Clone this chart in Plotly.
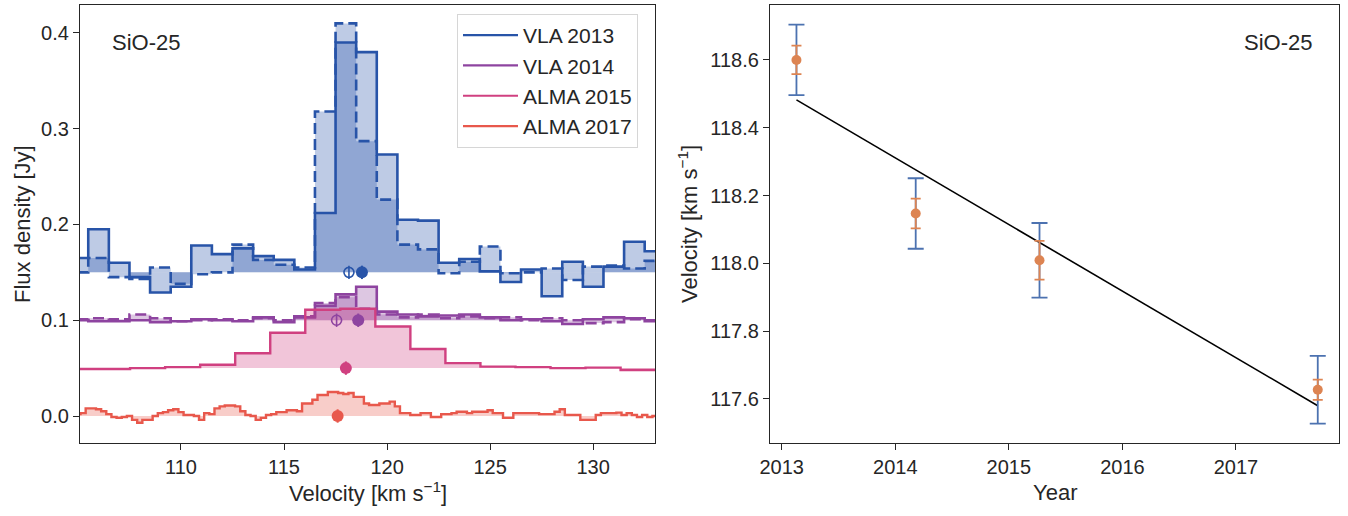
import plotly.graph_objects as go

W, H = 1348, 516

# ---------------- Left panel data (spectra, already offset) ----------------
vla_vel = list(range(105, 134))  # channel centres, km/s (1 km/s channels)

vla2013_solid = [0.165, 0.195, 0.160, 0.145, 0.129, 0.135, 0.178, 0.169, 0.175, 0.167,
                 0.163, 0.153, 0.212, 0.390, 0.380, 0.273, 0.205, 0.204, 0.160, 0.164,
                 0.151, 0.140, 0.153, 0.125, 0.161, 0.135, 0.156, 0.182, 0.172]
vla2013_dash = [0.150, 0.165, 0.145, 0.143, 0.155, 0.138, 0.148, 0.150, 0.179, 0.163,
                0.158, 0.155, 0.318, 0.410, 0.287, 0.226, 0.179, 0.174, 0.149, 0.161,
                0.177, 0.149, 0.150, 0.154, 0.142, 0.156, 0.157, 0.154, 0.162]

vla2014_solid = [0.100, 0.099, 0.099, 0.100, 0.098, 0.099, 0.101, 0.100, 0.099, 0.103,
                 0.098, 0.103, 0.115, 0.127, 0.135, 0.109, 0.106, 0.104, 0.105, 0.106,
                 0.103, 0.100, 0.101, 0.099, 0.096, 0.101, 0.103, 0.102, 0.099]
vla2014_dash = [0.101, 0.102, 0.101, 0.106, 0.102, 0.099, 0.100, 0.101, 0.100, 0.102,
                0.100, 0.104, 0.118, 0.124, 0.112, 0.106, 0.103, 0.106, 0.102, 0.104,
                0.102, 0.103, 0.100, 0.102, 0.100, 0.097, 0.098, 0.101, 0.100]

alma2015_vel = [104.98, 106.68, 108.38, 110.08, 111.78, 113.48, 115.18, 116.88, 118.58,
                120.28, 121.98, 123.68, 125.38, 127.08, 128.78, 130.48, 132.18, 133.88]
alma2015 = [0.049, 0.049, 0.050, 0.051, 0.0535, 0.0655, 0.087, 0.111, 0.112,
            0.0935, 0.070, 0.0552, 0.0516, 0.051, 0.050, 0.0505, 0.048, 0.048]

alma2017_v0 = 105.0   # first channel centre, km/s
alma2017_dv = 0.25    # channel width, km/s
alma2017 = [0.002, 0.003, 0.008, 0.008, 0.007, 0.005, 0.002, -0.001, -0.002, -0.001,
            0.000, -0.004, -0.007, -0.004, -0.004, 0.000, 0.003, 0.004, 0.006, 0.007,
            0.004, 0.001, 0.001, 0.000, -0.004, 0.003, 0.002, 0.008, 0.010, 0.011,
            0.011, 0.010, 0.005, 0.001, 0.000, -0.004, -0.002, 0.001, 0.002, 0.004,
            0.004, 0.006, 0.006, 0.005, 0.013, 0.013, 0.017, 0.022, 0.022, 0.025,
            0.025, 0.024, 0.023, 0.024, 0.020, 0.020, 0.013, 0.0115, 0.0115, 0.013,
            0.013, 0.015, 0.010, 0.003, 0.003, 0.001, 0.001, 0.003, 0.003, -0.001,
            -0.001, 0.002, 0.002, 0.003, 0.0045, 0.0045, 0.003, 0.0045, 0.0045, 0.0045,
            0.006, 0.003, 0.003, -0.002, -0.002, 0.003, 0.003, 0.003, 0.003, 0.003,
            0.002, 0.002, 0.002, 0.0045, 0.007, 0.001, 0.001, 0.001, -0.004, -0.004,
            -0.004, 0.001, 0.003, 0.003, 0.003, 0.0035, 0.001, 0.003, 0.001, -0.001,
            0.001, -0.001, 0.000]
alma2017_vel = [alma2017_v0 + alma2017_dv * i for i in range(len(alma2017))]

baselines = {"VLA 2013": 0.15, "VLA 2014": 0.10, "ALMA 2015": 0.05, "ALMA 2017": 0.0}

# centroid markers
open_vel = [118.15, 117.55]
open_y = [0.15, 0.10]
filled_vel = [118.78, 118.60, 118.00, 117.60]
filled_y = [0.15, 0.10, 0.05, 0.00]
marker_err = 0.007

# ---------------- Right panel data ----------------
years = [2013.13, 2014.18, 2015.27, 2017.72]
velocity = [118.600, 118.147, 118.009, 117.627]
err_total = [0.104, 0.104, 0.110, 0.100]
err_stat = [0.042, 0.044, 0.057, 0.030]
fit_years = [2013.13, 2017.72]
fit_vel = [118.482, 117.580]

# ---------------- Styles ----------------
C = {"VLA 2013": (40, 84, 168), "VLA 2014": (142, 68, 160),
     "ALMA 2015": (208, 64, 128), "ALMA 2017": (232, 88, 76)}
FONT = "Liberation Sans, Arial, Helvetica, sans-serif"
INK = "#262626"
LW = 2.6
DASH = "11px,5px"


def rgb(c, a=None):
    return f"rgb{c}" if a is None else f"rgba({c[0]},{c[1]},{c[2]},{a})"


fig = go.Figure()


def add_spec(x, y, name, dash=None, shape="hvh"):
    base = baselines[name]
    fig.add_trace(go.Scatter(x=x, y=[base] * len(x), mode="lines", line=dict(width=0),
                             showlegend=False, hoverinfo="skip", xaxis="x", yaxis="y"))
    fig.add_trace(go.Scatter(x=x, y=y, mode="lines", line_shape=shape,
                             line=dict(color=rgb(C[name]), width=LW if name.startswith("VLA") else 2.4,
                                       dash=dash if dash else "solid"),
                             fill="tonexty", fillcolor=rgb(C[name], 0.3),
                             showlegend=False, hoverinfo="skip", xaxis="x", yaxis="y"))


add_spec(vla_vel, vla2013_solid, "VLA 2013")
add_spec(vla_vel, vla2013_dash, "VLA 2013", dash=DASH)
add_spec(vla_vel, vla2014_solid, "VLA 2014")
add_spec(vla_vel, vla2014_dash, "VLA 2014", dash=DASH)
add_spec(alma2015_vel, alma2015, "ALMA 2015")
add_spec(alma2017_vel, alma2017, "ALMA 2017")

names = list(baselines.keys())
# open centroid markers (VLA 2013, VLA 2014)
for i in range(2):
    fig.add_trace(go.Scatter(x=[open_vel[i]], y=[open_y[i]], mode="markers",
                             marker=dict(symbol="circle-open", size=10, color=rgb(C[names[i]]),
                                         line=dict(width=1.6)),
                             error_y=dict(type="constant", value=marker_err, width=0, thickness=1.6,
                                          color=rgb(C[names[i]])),
                             showlegend=False, xaxis="x", yaxis="y"))
for i, n in enumerate(names):
    fig.add_trace(go.Scatter(x=[filled_vel[i]], y=[filled_y[i]], mode="markers",
                             marker=dict(symbol="circle", size=12, color=rgb(C[n])),
                             error_y=dict(type="constant", value=marker_err, width=0, thickness=2,
                                          color=rgb(C[n])),
                             showlegend=False, xaxis="x", yaxis="y"))

# legend entries
for i, n in enumerate(names):
    fig.add_trace(go.Scatter(x=[None], y=[None], mode="lines", name=n,
                             line=dict(color=rgb(C[n]), width=2.2),
                             xaxis="x", yaxis="y"))

# ---------------- Right panel ----------------
fig.add_trace(go.Scatter(x=fit_years, y=fit_vel, mode="lines", line=dict(color="black", width=1.6),
                         showlegend=False, xaxis="x2", yaxis="y2"))
fig.add_trace(go.Scatter(x=years, y=velocity, mode="markers", marker=dict(size=0.1, color="#4c72b0"),
                         error_y=dict(type="data", array=err_total, width=8, thickness=1.8, color="#4c72b0"),
                         showlegend=False, xaxis="x2", yaxis="y2"))
fig.add_trace(go.Scatter(x=years, y=velocity, mode="markers", marker=dict(size=10, color="#dd8452"),
                         error_y=dict(type="data", array=err_stat, width=5, thickness=1.8, color="#dd8452"),
                         showlegend=False, xaxis="x2", yaxis="y2"))

axis_common = dict(showline=True, mirror=True, linecolor=INK, linewidth=1.3, ticks="outside",
                   ticklen=6, tickwidth=1.3, tickcolor=INK, showgrid=False, zeroline=False,
                   tickfont=dict(family=FONT, size=20, color=INK), automargin=False)

ybot, ytop = (H - 443) / H, (H - 5) / H
fig.update_layout(
    width=W, height=H, margin=dict(l=0, r=0, t=0, b=0),
    paper_bgcolor="white", plot_bgcolor="white",
    font=dict(family=FONT, color=INK),
    xaxis=dict(domain=[80 / W, 655 / W], range=[105.1, 133.0], tickvals=[110, 115, 120, 125, 130],
               anchor="y", **axis_common),
    yaxis=dict(domain=[ybot, ytop], range=[-0.0282, 0.4292], tickvals=[0, 0.1, 0.2, 0.3, 0.4],
               ticktext=["0.0", "0.1", "0.2", "0.3", "0.4"], anchor="x", **axis_common),
    xaxis2=dict(domain=[770 / W, 1339 / W], range=[2012.897, 2017.907],
                tickvals=[2013, 2014, 2015, 2016, 2017], anchor="y2", **axis_common),
    yaxis2=dict(domain=[ybot, ytop], range=[117.470, 118.762],
                tickvals=[117.6, 117.8, 118.0, 118.2, 118.4, 118.6],
                ticktext=["117.6", "117.8", "118.0", "118.2", "118.4", "118.6"], anchor="x2", **axis_common),
    legend=dict(x=457 / W, y=(H - 14) / H, xanchor="left", yanchor="top",
                bgcolor="white", bordercolor="#d6d6d6", borderwidth=1,
                font=dict(family=FONT, size=21, color=INK), itemwidth=55,
                traceorder="normal", tracegroupgap=0),
    annotations=[
        dict(text="SiO-25", x=110 / W, y=(H - 42) / H, xref="paper", yref="paper",
             xanchor="left", yanchor="middle", showarrow=False, font=dict(size=22, family=FONT, color=INK)),
        dict(text="SiO-25", x=1314 / W, y=(H - 42) / H, xref="paper", yref="paper",
             xanchor="right", yanchor="middle", showarrow=False, font=dict(size=22, family=FONT, color=INK)),
        dict(text="Flux density [Jy]", x=22 / W, y=(H - 224) / H, xref="paper", yref="paper",
             xanchor="center", yanchor="middle", textangle=-90, showarrow=False,
             font=dict(size=22, family=FONT, color=INK)),
        dict(text="Velocity [km s<sup>\u22121</sup>]", x=367.5 / W, y=(H - 492) / H, xref="paper", yref="paper",
             xanchor="center", yanchor="middle", showarrow=False, font=dict(size=22, family=FONT, color=INK)),
        dict(text="Velocity [km s<sup>\u22121</sup>]", x=688 / W, y=(H - 224) / H, xref="paper", yref="paper",
             xanchor="center", yanchor="middle", textangle=-90, showarrow=False,
             font=dict(size=22, family=FONT, color=INK)),
        dict(text="Year", x=1054.5 / W, y=(H - 492) / H, xref="paper", yref="paper",
             xanchor="center", yanchor="middle", showarrow=False, font=dict(size=22, family=FONT, color=INK)),
    ],
)

fig.write_html("out.html")
